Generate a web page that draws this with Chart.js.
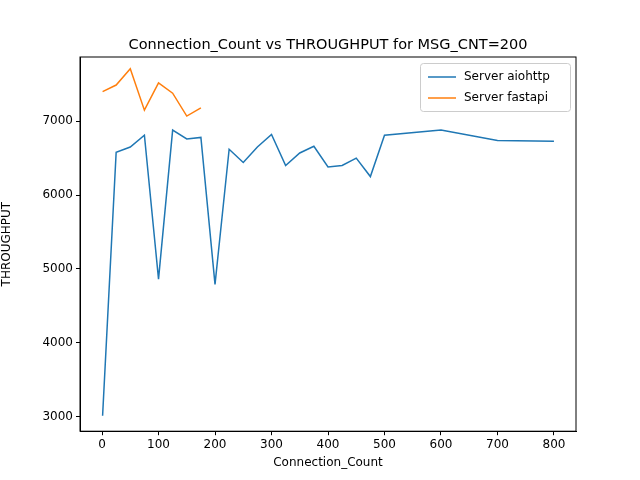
<!DOCTYPE html>
<html><head><meta charset="utf-8">
<script src="https://cdn.jsdelivr.net/npm/chart.js@4"></script>
<style>body{margin:0;background:#fff}#wrap{width:640px;height:480px}</style>
</head><body><div id="wrap"><canvas id="c"></canvas></div>
<script>
const aioX = [1,25,50,75,100,125,150,175,200,225,250,275,300,325,350,375,400,425,450,475,500,600,700,800]
const aioY = [3010,6580,6650,6810,4860,6880,6760,6780,4790,6620,6440,6650,6820,6400,6570,6660,6380,6400,6500,6250,6810,6880,6740,6730]
const fastX = [1,25,50,75,100,125,150,175]
const fastY = [7400,7490,7710,7150,7520,7380,7070,7180]
const xTicks = [0,100,200,300,400,500,600,700,800]
const yTicks = [3000,4000,5000,6000,7000]
const chartTitle = "Connection_Count vs THROUGHPUT for MSG_CNT=200"

const pts = (xs,ys)=>xs.map((x,i)=>({x:x,y:ys[i]}))
const font = {family:"DejaVu Sans",size:12}

const legendBox = {
  id:"legendBox",
  afterDraw(chart){
    const ctx = chart.ctx, a = chart.chartArea
    const x0 = a.right-156, y0 = a.top+6, w = 150, h = 48
    ctx.save()
    ctx.fillStyle="rgba(255,255,255,0.8)"
    ctx.strokeStyle="#ccc"
    ctx.lineWidth=1
    ctx.beginPath(); ctx.roundRect(x0+0.5,y0+0.5,w,h,3); ctx.fill(); ctx.stroke()
    chart.data.datasets.forEach((d,i)=>{
      const yy = y0+14+i*21
      ctx.strokeStyle=d.borderColor; ctx.lineWidth=1.5
      ctx.beginPath(); ctx.moveTo(x0+8,yy); ctx.lineTo(x0+36,yy); ctx.stroke()
      ctx.fillStyle="#000"; ctx.font="12px DejaVu Sans"; ctx.textBaseline="middle"
      ctx.fillText(d.label,x0+44,yy)
    })
    // title centred over the axes
    ctx.fillStyle="#000"; ctx.font="14.5px DejaVu Sans"; ctx.textAlign="center"; ctx.textBaseline="alphabetic"
    ctx.fillText(chartTitle,(a.left+a.right)/2,a.top-8)
    ctx.restore()
  }
}

const tickGrid = {display:true,drawOnChartArea:false,drawTicks:true,tickLength:4,tickColor:"#000"}

new Chart(document.getElementById("c"),{
  type:"line",
  data:{datasets:[
    {label:"Server aiohttp",data:pts(aioX,aioY),borderColor:"#1f77b4",borderWidth:1.5,pointRadius:0,tension:0},
    {label:"Server fastapi",data:pts(fastX,fastY),borderColor:"#ff7f0e",borderWidth:1.5,pointRadius:0,tension:0}
  ]},
  options:{
    responsive:true,maintainAspectRatio:false,animation:false,
    layout:{padding:{left:0,right:64,top:57,bottom:0}},
    plugins:{legend:{display:false},tooltip:{enabled:false},title:{display:false}},
    scales:{
      x:{type:"linear",min:-39,max:839,
        afterBuildTicks(s){s.ticks=xTicks.map(v=>({value:v}))},
        grid:tickGrid,
        border:{color:"#000"},
        ticks:{color:"#000",font:font,maxRotation:0,padding:2,callback:v=>v},
        title:{display:true,text:"Connection_Count",color:"#000",font:font,padding:{top:2,bottom:10}}},
      y:{min:2800,max:7870,
        afterBuildTicks(s){s.ticks=yTicks.map(v=>({value:v}))},
        afterFit(s){s.width=80},
        grid:tickGrid,
        border:{color:"#000"},
        ticks:{color:"#000",font:font,padding:3,callback:v=>v},
        title:{display:true,text:"THROUGHPUT",color:"#000",font:font,padding:{top:0,bottom:4}}}
    }
  },
  plugins:[legendBox,{id:"frame",afterDraw(c){const a=c.chartArea,ctx=c.ctx;ctx.save();ctx.strokeStyle="#000";ctx.lineWidth=1;ctx.strokeRect(a.left,a.top,a.right-a.left,a.bottom-a.top);ctx.restore()}}]
})
</script></body></html>
